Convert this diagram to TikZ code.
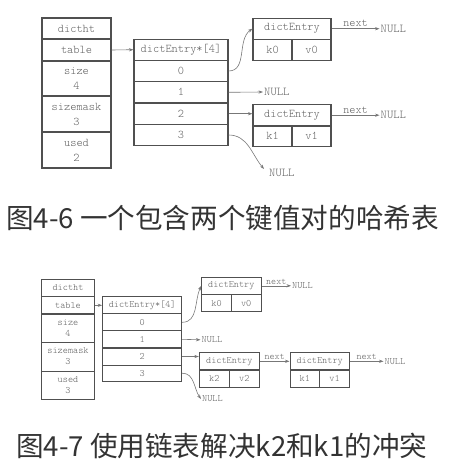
\documentclass[tikz,border=0pt]{standalone}
\usepackage{fontspec}
\setmonofont{lmmonolt10-regular.otf}
\newfontfamily\cjk{Noto Sans CJK SC}
\usetikzlibrary{arrows.meta}
\definecolor{boxc}{HTML}{505050}
\definecolor{txtc}{HTML}{606060}
\definecolor{arrc}{HTML}{777777}
\definecolor{capc}{HTML}{333333}
\begin{document}
\begin{tikzpicture}[x=1pt,y=-1pt,
  cellbig/.style={draw=boxc, line width=1.1pt, text=txtc, inner sep=0pt, align=center,
    font=\fontsize{11.8}{15}\selectfont\ttfamily},
  cellsmall/.style={draw=boxc, line width=1pt, text=txtc, inner sep=0pt, align=center,
    font=\fontsize{9.8}{11}\selectfont\ttfamily},
  nullbig/.style={text=txtc, inner sep=1pt, anchor=west, font=\fontsize{12}{12}\selectfont\ttfamily},
  nullsmall/.style={text=txtc, inner sep=1pt, anchor=west, font=\fontsize{9.8}{10}\selectfont\ttfamily},
  arr/.style={draw=arrc, line width=0.6pt, -{Stealth[length=4.5pt,width=3.2pt]}},
  labbig/.style={text=txtc, inner sep=1.5pt, font=\fontsize{11.6}{12}\selectfont\ttfamily},
  labsmall/.style={text=txtc, inner sep=1pt, font=\fontsize{9.6}{10}\selectfont\ttfamily},
  captext/.style={text=capc, inner sep=0pt, anchor=west, font=\cjk\fontsize{27.6}{30}\selectfont}]
\useasboundingbox (0,0) rectangle (470,463);

% ---------------- top diagram ----------------
\node[cellbig, minimum width=69pt, minimum height=21pt] (h1) at (76.5,28.5) {dictht};
\node[cellbig, minimum width=69pt, minimum height=22pt] (h2) at (76.5,50) {table};
\node[cellbig, minimum width=69pt, minimum height=35pt] (h3) at (76.5,78.5) {size\\4};
\node[cellbig, minimum width=69pt, minimum height=36pt] (h4) at (76.5,114) {sizemask\\3};
\node[cellbig, minimum width=69pt, minimum height=36pt] (h5) at (76.5,150) {used\\2};

\node[cellbig, minimum width=94pt, minimum height=21.3pt] (a0) at (181,49.7) {dictEntry*[4]};
\node[cellbig, minimum width=94pt, minimum height=21.3pt] (r0) at (181,71) {0};
\node[cellbig, minimum width=94pt, minimum height=21.3pt] (r1) at (181,92.3) {1};
\node[cellbig, minimum width=94pt, minimum height=21.3pt] (r2) at (181,113.7) {2};
\node[cellbig, minimum width=94pt, minimum height=21.3pt] (r3) at (181,135) {3};

\node[cellbig, minimum width=78pt, minimum height=21.3pt] (e0t) at (292,28.7) {dictEntry};
\node[cellbig, minimum width=39pt, minimum height=21.3pt] (e0k) at (272.5,50) {k0};
\node[cellbig, minimum width=39pt, minimum height=21.3pt] (e0v) at (311.5,50) {v0};

\node[cellbig, minimum width=78pt, minimum height=21.7pt] (e1t) at (292,115.2) {dictEntry};
\node[cellbig, minimum width=39pt, minimum height=20.7pt] (e1k) at (272.5,136.3) {k1};
\node[cellbig, minimum width=39pt, minimum height=20.7pt] (e1v) at (311.5,136.3) {v1};

\node[nullbig] (n0) at (379.5,28.7) {NULL};
\node[nullbig] (n1) at (263,92) {NULL};
\node[nullbig] (n2) at (379.5,115.2) {NULL};
\node[nullbig] (n3) at (268,173) {NULL};

\draw[arr] (h2.east) -- (a0.west);
\draw[arr] (r0.east) to[out=0,in=215] (e0t.west);
\draw[arr] (r1.east) -- (n1.west);
\draw[arr] (r2.east) -- (r2.east -| e1t.west);
\draw[arr] (r3.east) to[out=0,in=130] ([shift={(-4,-4)}]n3.west);
\draw[arr] (e0t.east) -- node[labbig, above] {next} (n0.west);
\draw[arr] (e1t.east) -- node[labbig, above] {next} (n2.west);

\node[captext] (c1) at (6,218) {图4-6 一个包含两个键值对的哈希表};

% ---------------- bottom diagram ----------------
\node[cellsmall, minimum width=52.6pt, minimum height=17.4pt] (g1) at (68,288) {dictht};
\node[cellsmall, minimum width=52.6pt, minimum height=17.3pt] (g2) at (68,305.3) {table};
\node[cellsmall, minimum width=52.6pt, minimum height=28pt] (g3) at (68,328) {size\\4};
\node[cellsmall, minimum width=52.6pt, minimum height=29pt] (g4) at (68,356.5) {sizemask\\3};
\node[cellsmall, minimum width=52.6pt, minimum height=28.3pt] (g5) at (68,385.2) {used\\3};

\node[cellsmall, minimum width=79pt, minimum height=17.3pt] (b0) at (142.2,305.3) {dictEntry*[4]};
\node[cellsmall, minimum width=79pt, minimum height=16.7pt] (s0) at (142.2,322.3) {0};
\node[cellsmall, minimum width=79pt, minimum height=17.3pt] (s1) at (142.2,339.3) {1};
\node[cellsmall, minimum width=79pt, minimum height=17pt] (s2) at (142.2,356.5) {2};
\node[cellsmall, minimum width=79pt, minimum height=16.3pt] (s3) at (142.2,373.2) {3};

\node[cellsmall, minimum width=59.3pt, minimum height=17pt] (f0t) at (231.35,285.8) {dictEntry};
\node[cellsmall, minimum width=29.6pt, minimum height=17.4pt] (f0k) at (216.5,303) {k0};
\node[cellsmall, minimum width=29.7pt, minimum height=17.4pt] (f0v) at (246.15,303) {v0};

\node[cellsmall, minimum width=60pt, minimum height=17.3pt] (f2t) at (229.3,361.3) {dictEntry};
\node[cellsmall, minimum width=30pt, minimum height=17pt] (f2k) at (214.3,378.5) {k2};
\node[cellsmall, minimum width=30pt, minimum height=17pt] (f2v) at (244.3,378.5) {v2};

\node[cellsmall, minimum width=59.3pt, minimum height=17.3pt] (f1t) at (319.65,361.3) {dictEntry};
\node[cellsmall, minimum width=29.7pt, minimum height=17pt] (f1k) at (304.85,378.5) {k1};
\node[cellsmall, minimum width=29.6pt, minimum height=17pt] (f1v) at (334.5,378.5) {v1};

\node[nullsmall] (m0) at (291,285.8) {NULL};
\node[nullsmall] (m1) at (200.5,339.8) {NULL};
\node[nullsmall] (m4) at (383.5,361.3) {NULL};
\node[nullsmall] (m3) at (201,399) {NULL};

\draw[arr] (g2.east) -- (b0.west);
\draw[arr] (s0.east) to[out=0,in=245] (f0t.west);
\draw[arr] (s1.east) -- (m1.west);
\draw[arr] (s2.east) -- (s2.east -| f2t.west);
\draw[arr] (s3.east) to[out=0,in=125] (m3.west);
\draw[arr] (f0t.east) -- node[labsmall, above] {next} (m0.west);
\draw[arr] (f2t.east) -- node[labsmall, above] {next} (f1t.west);
\draw[arr] (f1t.east) -- node[labsmall, above] {next} (m4.west);

\node[captext] (c2) at (16,445.5) {图4-7 使用链表解决k2和k1的冲突};
\end{tikzpicture}
\end{document}
